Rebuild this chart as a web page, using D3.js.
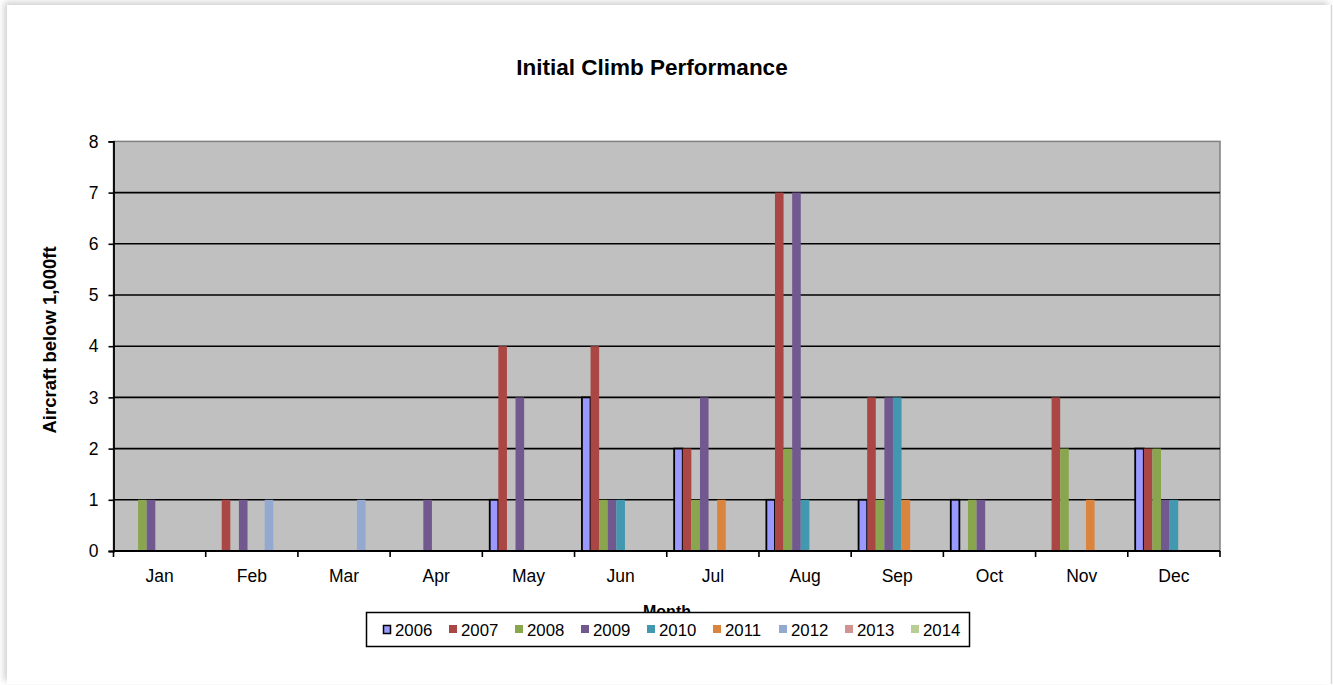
<!DOCTYPE html>
<html>
<head>
<meta charset="utf-8">
<script src="https://cdn.jsdelivr.net/npm/d3@7"></script>
<style>
  html, body { margin: 0; padding: 0; background: #ffffff; }
  svg { display: block; font-family: "Liberation Sans", Arial, sans-serif; }
</style>
</head>
<body>
<svg id="chart" width="1333" height="685"></svg>
<script>
// Monthly counts of aircraft below 1,000ft during initial climb, by year
const months = ["Jan", "Feb", "Mar", "Apr", "May", "Jun", "Jul", "Aug", "Sep", "Oct", "Nov", "Dec"];
const years = ["2006", "2007", "2008", "2009", "2010", "2011", "2012", "2013", "2014"];

const v2006 = [0, 0, 0, 0, 1, 3, 2, 1, 1, 1, 0, 2];
const v2007 = [0, 1, 0, 0, 4, 4, 2, 7, 3, 0, 3, 2];
const v2008 = [1, 0, 0, 0, 0, 1, 1, 2, 1, 1, 2, 2];
const v2009 = [1, 1, 0, 1, 3, 1, 3, 7, 3, 1, 0, 1];
const v2010 = [0, 0, 0, 0, 0, 1, 0, 1, 3, 0, 0, 1];
const v2011 = [0, 0, 0, 0, 0, 0, 1, 0, 1, 0, 1, 0];
const v2012 = [0, 1, 1, 0, 0, 0, 0, 0, 0, 0, 0, 0];
const v2013 = [0, 0, 0, 0, 0, 0, 0, 0, 0, 0, 0, 0];
const v2014 = [0, 0, 0, 0, 0, 0, 0, 0, 0, 0, 0, 0];
const seriesValues = [v2006, v2007, v2008, v2009, v2010, v2011, v2012, v2013, v2014];

const yTicks = [0, 1, 2, 3, 4, 5, 6, 7, 8];

const colors = ["#9999FF", "#AA4643", "#89A54E", "#71588F", "#4198AF", "#DB843D", "#93A9CF", "#D19392", "#B9CD96"];

const svg = d3.select("#chart");

// Page frame with soft shadow on the top/left edges
const defs = svg.append("defs");
const f = defs.append("filter").attr("id", "frameShadow")
  .attr("x", "-5%").attr("y", "-5%").attr("width", "110%").attr("height", "110%");
f.append("feDropShadow").attr("dx", -3).attr("dy", -3).attr("stdDeviation", 3)
  .attr("flood-color", "#000").attr("flood-opacity", 0.18);
svg.append("rect").attr("x", 7).attr("y", 5).attr("width", 1324).attr("height", 679)
  .attr("fill", "#ffffff").attr("filter", "url(#frameShadow)");
svg.append("line").attr("x1", 1331.5).attr("x2", 1331.5).attr("y1", 5).attr("y2", 684)
  .attr("stroke", "#d8d8d8").attr("stroke-width", 1.5);

// Plot area
const plot = { left: 113.5, right: 1220, top: 141.4, bottom: 551 };

const x0 = d3.scaleBand().domain(months).range([plot.left, plot.right]).padding(0);
const groupPad = 7.4;
const x1 = d3.scaleBand().domain(years)
  .range([groupPad, x0.bandwidth() - groupPad]).padding(0);
const y = d3.scaleLinear().domain([0, 8]).range([plot.bottom, plot.top]);

svg.append("rect")
  .attr("x", plot.left).attr("y", plot.top)
  .attr("width", plot.right - plot.left).attr("height", plot.bottom - plot.top)
  .attr("fill", "#C0C0C0").attr("stroke", "#808080").attr("stroke-width", 1.5);

// Horizontal gridlines
svg.append("g").selectAll("line")
  .data(yTicks.filter(d => d > 0 && d < 8))
  .join("line")
  .attr("x1", plot.left).attr("x2", plot.right)
  .attr("y1", d => y(d)).attr("y2", d => y(d))
  .attr("stroke", "#000").attr("stroke-width", 1.6);

// Bars
const rows = [];
seriesValues.forEach((vals, si) => {
  vals.forEach((v, mi) => {
    rows.push({ year: years[si], month: months[mi], value: v, si });
  });
});

svg.append("g").selectAll("rect")
  .data(rows.filter(d => d.value > 0))
  .join("rect")
  .attr("x", d => x0(d.month) + x1(d.year))
  .attr("y", d => y(d.value))
  .attr("width", x1.bandwidth())
  .attr("height", d => y(0) - y(d.value))
  .attr("fill", d => colors[d.si])
  .attr("stroke", d => d.si === 0 ? "#000" : "none")
  .attr("stroke-width", d => d.si === 0 ? 1.8 : 0);

// Y axis
const yAxis = d3.axisLeft(y).tickValues(yTicks).tickSize(5).tickPadding(10)
  .tickFormat(d3.format("d"));
const gy = svg.append("g").attr("transform", `translate(${plot.left},0)`).call(yAxis);
gy.select(".domain").attr("stroke", "#000").attr("stroke-width", 1.8);
gy.selectAll(".tick line").attr("stroke", "#000").attr("stroke-width", 1.6);
gy.selectAll(".tick text").attr("font-size", 17.5).attr("fill", "#000")
  .attr("font-family", "'Liberation Sans', Arial, sans-serif");

// X axis: tick marks at category boundaries, labels centred in each band
const gx = svg.append("g").attr("transform", `translate(0,${plot.bottom})`);
gx.append("line").attr("x1", plot.left).attr("x2", plot.right)
  .attr("y1", 0).attr("y2", 0).attr("stroke", "#000").attr("stroke-width", 1.8);
const bounds = months.map(m => x0(m)).concat([plot.right]);
gx.selectAll("line.tick").data(bounds).join("line").attr("class", "tick")
  .attr("x1", d => d).attr("x2", d => d).attr("y1", 0).attr("y2", 6)
  .attr("stroke", "#000").attr("stroke-width", 1.6);
gx.selectAll("text").data(months).join("text")
  .attr("x", d => x0(d) + x0.bandwidth() / 2)
  .attr("y", 31)
  .attr("text-anchor", "middle")
  .attr("font-size", 17.5)
  .attr("fill", "#000")
  .text(d => d);

// Title
svg.append("text").attr("x", 652).attr("y", 75).attr("text-anchor", "middle")
  .attr("font-size", 22.5).attr("font-weight", "bold").attr("fill", "#000")
  .text("Initial Climb Performance");

// Y axis title
svg.append("text")
  .attr("transform", "translate(56,340) rotate(-90)")
  .attr("text-anchor", "middle")
  .attr("font-size", 18.5).attr("font-weight", "bold").attr("fill", "#000")
  .text("Aircraft below 1,000ft");

// X axis title (its lower part sits behind the legend)
svg.append("text").attr("x", 667).attr("y", 617).attr("text-anchor", "middle")
  .attr("font-size", 16).attr("font-weight", "bold").attr("fill", "#000")
  .text("Month");

// Legend
const legend = svg.append("g");
legend.append("rect").attr("x", 366.5).attr("y", 612.5).attr("width", 603).attr("height", 34)
  .attr("fill", "#fff").attr("stroke", "#000").attr("stroke-width", 1.5);
const item = legend.selectAll("g.item").data(years).join("g").attr("class", "item")
  .attr("transform", (d, i) => `translate(${383 + i * 66},0)`);
item.append("rect")
  .attr("x", (d, i) => i === 0 ? 0.5 : 0)
  .attr("y", (d, i) => i === 0 ? 625.5 : 625)
  .attr("width", (d, i) => i === 0 ? 7 : 8)
  .attr("height", 8)
  .attr("fill", (d, i) => colors[i])
  .attr("stroke", (d, i) => i === 0 ? "#000" : "none")
  .attr("stroke-width", 1.5);
item.append("text").attr("x", 12).attr("y", 636)
  .attr("font-size", 16.8).attr("fill", "#000")
  .text(d => d);
</script>
</body>
</html>
